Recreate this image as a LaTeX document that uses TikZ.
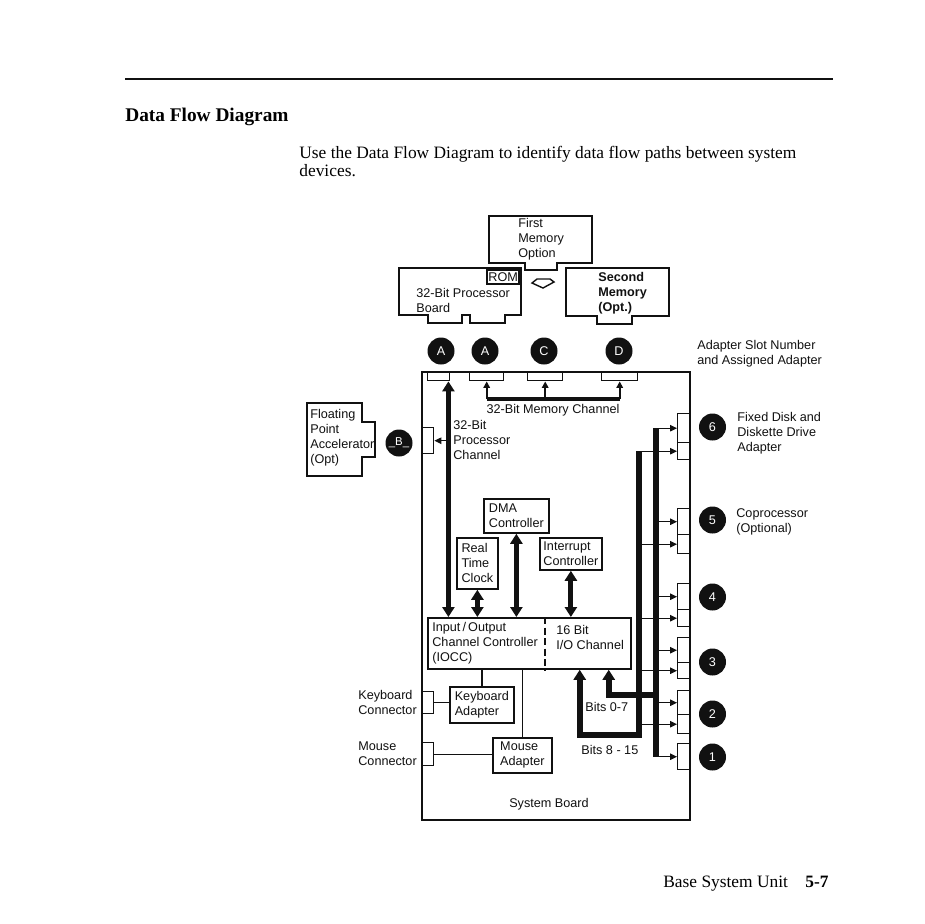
\documentclass[tikz,border=0pt]{standalone}
\usepackage{fontspec}
\setmainfont{Liberation Serif}
\setsansfont{Liberation Sans}
\usetikzlibrary{arrows.meta,positioning,calc}
\definecolor{ink}{HTML}{111111}
\tikzset{
  lbl/.style={font=\sffamily\fontsize{7.2}{8.5}\selectfont,align=left,
              inner sep=0pt,text=ink},
  box/.style={lbl,draw=ink,line width=1pt,anchor=north west},
  cardline/.style={draw=ink,line width=1pt},
  conn/.style={draw=ink,line width=0.8pt,inner sep=0pt,anchor=north west},
  wire/.style={draw=ink,line width=0.8pt},
  slotnum/.style={circle,fill=ink,text=white,minimum size=0.54cm,
                  inner sep=0pt,font=\sffamily\fontsize{7.2}{8}\selectfont},
  busarrow/.style={{Triangle[length=0.2cm,width=0.24cm]}-{Triangle[length=0.2cm,width=0.24cm]},
                   line width=0.1cm,ink},
  busline/.style={-{Triangle[length=0.2cm,width=0.24cm]},line width=0.12cm,ink},
  bar/.style={line width=0.12cm,ink},
  feed/.style={-{Triangle[length=0.14cm,width=0.13cm]},line width=0.6pt,ink},
  tipup/.style={-{Triangle[length=0.13cm,width=0.13cm]},line width=1pt,ink},
}

\begin{document}
\begin{tikzpicture}[x=0.02cm,y=-0.02cm]
  \path[use as bounding box,fill=white](0,0)rectangle(925,923);
  % page head and foot
  \draw[line width=1.4pt,ink](125,79)--(833,79);
  \node[font=\bfseries\fontsize{11}{13}\selectfont,anchor=base west,
        inner sep=0pt](title)at(125,121){Data Flow Diagram};
  \node[font=\fontsize{9.9}{9.7}\selectfont,align=left,anchor=west,
        inner sep=0pt](intro)at(299,161.5)
    {Use the Data Flow Diagram to identify data flow paths between system\\devices.};
  \node[font=\fontsize{9.9}{11}\selectfont,anchor=base west,inner sep=0pt]
    (foot)at(663,887){Base System Unit\hspace{1em}\textbf{5-7}};
  % memory cards and processor board
  \draw[cardline](489,216)--(592,216)--(592,263)--(557,263)--(557,270)
    --(525,270)--(525,263)--(489,263)--cycle;
  \node[lbl,anchor=west](mem1)at(518,239){First\\Memory\\Option};
  \draw[cardline](399,268)--(521,268)--(521,315)--(505,315)--(505,323)
    --(470,323)--(470,315)--(462,315)--(462,323)--(428,323)--(428,315)
    --(399,315)--cycle;
  \node[box,anchor=north east,minimum width=0.64cm,minimum height=0.28cm]
    (rom)at(520,269){ROM};
  \node[lbl,anchor=west](cpu)at(416,300.5){32-Bit Processor\\Board};
  \draw[line width=0.8pt,ink](532,283)--(537,279)--(550,279)--(554,282)
    --(543,288)--cycle;
  \draw[cardline](566,268)--(669,268)--(669,316)--(632,316)--(632,324)
    --(597,324)--(597,316)--(566,316)--cycle;
  \node[lbl,anchor=west,font=\sffamily\bfseries\fontsize{7.2}{8.5}\selectfont]
    (mem2)at(598,293){Second\\Memory\\(Opt.)};
  % floating point card
  \draw[cardline](307,403)--(362,403)--(362,422)--(375,422)--(375,457)
    --(362,457)--(362,476)--(307,476)--cycle;
  \node[lbl,anchor=west](fpa)at(310,437.5){Floating\\Point\\Accelerator\\(Opt)};
  \node[slotnum,font=\sffamily\fontsize{6.5}{8}\selectfont](cB)at(399,443){\_B\_};
  % system board
  \node[draw=ink,line width=1.1pt,anchor=north west,minimum width=5.36cm,
        minimum height=8.96cm,inner sep=0pt](sysbrd)at(421,371){};
  \node[lbl](sbl)at(549,804){System Board};
  % slots on top edge
  \node[conn,minimum width=0.44cm,minimum height=0.18cm](slotAa)at(427,371){};
  \node[conn,minimum width=0.68cm,minimum height=0.18cm](slotAb)at(469,371){};
  \node[conn,minimum width=0.70cm,minimum height=0.18cm](slotC)at(527,371){};
  \node[conn,minimum width=0.72cm,minimum height=0.18cm](slotD)at(601,371){};
  \node[slotnum](cAa)at(441,351){A};
  \node[slotnum](cAb)at(485,351){A};
  \node[slotnum](cC)at(544,351){C};
  \node[slotnum](cD)at(619,351){D};
  \node[lbl,anchor=west](slotlbl)at(697,353.5){Adapter Slot Number\\and Assigned Adapter};
  % 32-bit memory channel
  \coordinate(mch)at(485,399);
  \draw[line width=2.2pt,ink](slotAb.south|-mch)--(slotD.south|-mch);
  \foreach \s in {slotAb,slotC,slotD}{
    \draw[tipup](\s.south|-mch)--(\s.south);
  }
  \node[lbl](mchlbl)at(553,410){32-Bit Memory Channel};
  % 32-bit processor channel
  \node[conn,minimum width=0.22cm,minimum height=0.52cm](fpcon)at(422,427){};
  \coordinate(pb)at($(slotAa.south east)+(-2,0)$);
  \node[lbl,anchor=west](pchlbl)at(453,440){32-Bit\\Processor\\Channel};
  \draw[feed](pb|-fpcon.east)--(fpcon.east);
  % controllers
  \node[box,minimum width=1.30cm,minimum height=0.68cm](dma)at(483,498){DMA\\Controller};
  \node[box,minimum width=0.82cm,minimum height=1.02cm](rtc)at(456,537){Real\\Time\\Clock};
  \node[box,minimum width=1.24cm,minimum height=0.64cm](intc)at(539,537){Interrupt\\Controller};
  \node[box,minimum width=4.06cm,minimum height=1.02cm](iocc)at(427,617){};
  \node[lbl,anchor=west](iocctxt)at(432,643){Input\,/\,Output\\Channel Controller\\(IOCC)};
  \node[lbl,anchor=west](io16)at(556,637.5){16 Bit\\I/O Channel};
  \draw[ink,line width=0.8pt,dash pattern=on 4pt off 2pt]
    ($(iocc.north west)+(118,0)$)--($(iocc.south west)+(118,0)$);
  \draw[busarrow](pb)--(pb|-iocc.north);
  \draw[busarrow](rtc.south)--(rtc.south|-iocc.north);
  \draw[busarrow](dma.south)--(dma.south|-iocc.north);
  \draw[busarrow](intc.south)--(intc.south|-iocc.north);
  % keyboard and mouse
  \node[box,minimum width=1.28cm,minimum height=0.72cm](kbd)at(449,686){Keyboard\\Adapter};
  \node[box,minimum width=1.18cm,minimum height=0.70cm](mouse)at(492,737){Mouse\\Adapter};
  \node[conn,minimum width=0.22cm,minimum height=0.44cm](kbcon)at(422,691){};
  \node[conn,minimum width=0.22cm,minimum height=0.46cm](mscon)at(422,742){};
  \node[lbl,anchor=west](kbconlbl)at(358,702.5){Keyboard\\Connector};
  \node[lbl,anchor=west](msconlbl)at(358,753.5){Mouse\\Connector};
  \draw[wire](kbd.north)--(kbd.north|-iocc.south);
  \draw[wire](mouse.north)--(mouse.north|-iocc.south);
  \draw[wire](kbcon.east)--(kbcon.east-|kbd.west);
  \draw[wire](mscon.east)--(mscon.east-|mouse.west);
  % adapter slots on the right edge
  \foreach \n/\t/\h in {s6a/413/0.58,s6b/442/0.34,s5a/508/0.52,s5b/534/0.38,
                        s4a/583/0.52,s4b/609/0.34,s3a/637/0.50,s3b/662/0.32,
                        s2a/690/0.48,s2b/714/0.38,s1a/743/0.52}{
    \node[conn,minimum width=0.24cm,minimum height=\h cm](\n)at(677,\t){};
  }
  \foreach \n/\y in {6/427,5/520,4/597,3/662,2/714,1/757}{
    \node[slotnum](n\n)at(712.5,\y){\n};
  }
  \node[lbl,anchor=west](n6lbl)at(737,433){Fixed Disk and\\Diskette Drive\\Adapter};
  \node[lbl,anchor=west](n5lbl)at(736,521.5){Coprocessor\\(Optional)};
  % 16-bit I/O channel
  \coordinate(bus07)at(656,695);
  \coordinate(bus815)at(639,735);
  \foreach \s in {s6b,s5b,s4b,s3b,s2b}{
    \draw[feed](\s.west-|bus815)--(\s.west);
  }
  \foreach \s in {s6a,s5a,s4a,s3a,s2a,s1a}{
    \draw[feed](\s.west-|bus07)--(\s.west);
  }
  \draw[bar](s6a.west-|bus07)--(s1a.west-|bus07);
  \draw[busline](s6b.west-|bus815)--(bus815)-|($(iocc.south east)+(-52,0)$);
  \draw[busline](bus07)-|($(iocc.south east)+(-23,0)$);
  \node[lbl,anchor=west](b07lbl)at(585,707){Bits 0-7};
  \node[lbl,anchor=west](b815lbl)at(581,750){Bits 8 - 15};
\end{tikzpicture}
\end{document}
